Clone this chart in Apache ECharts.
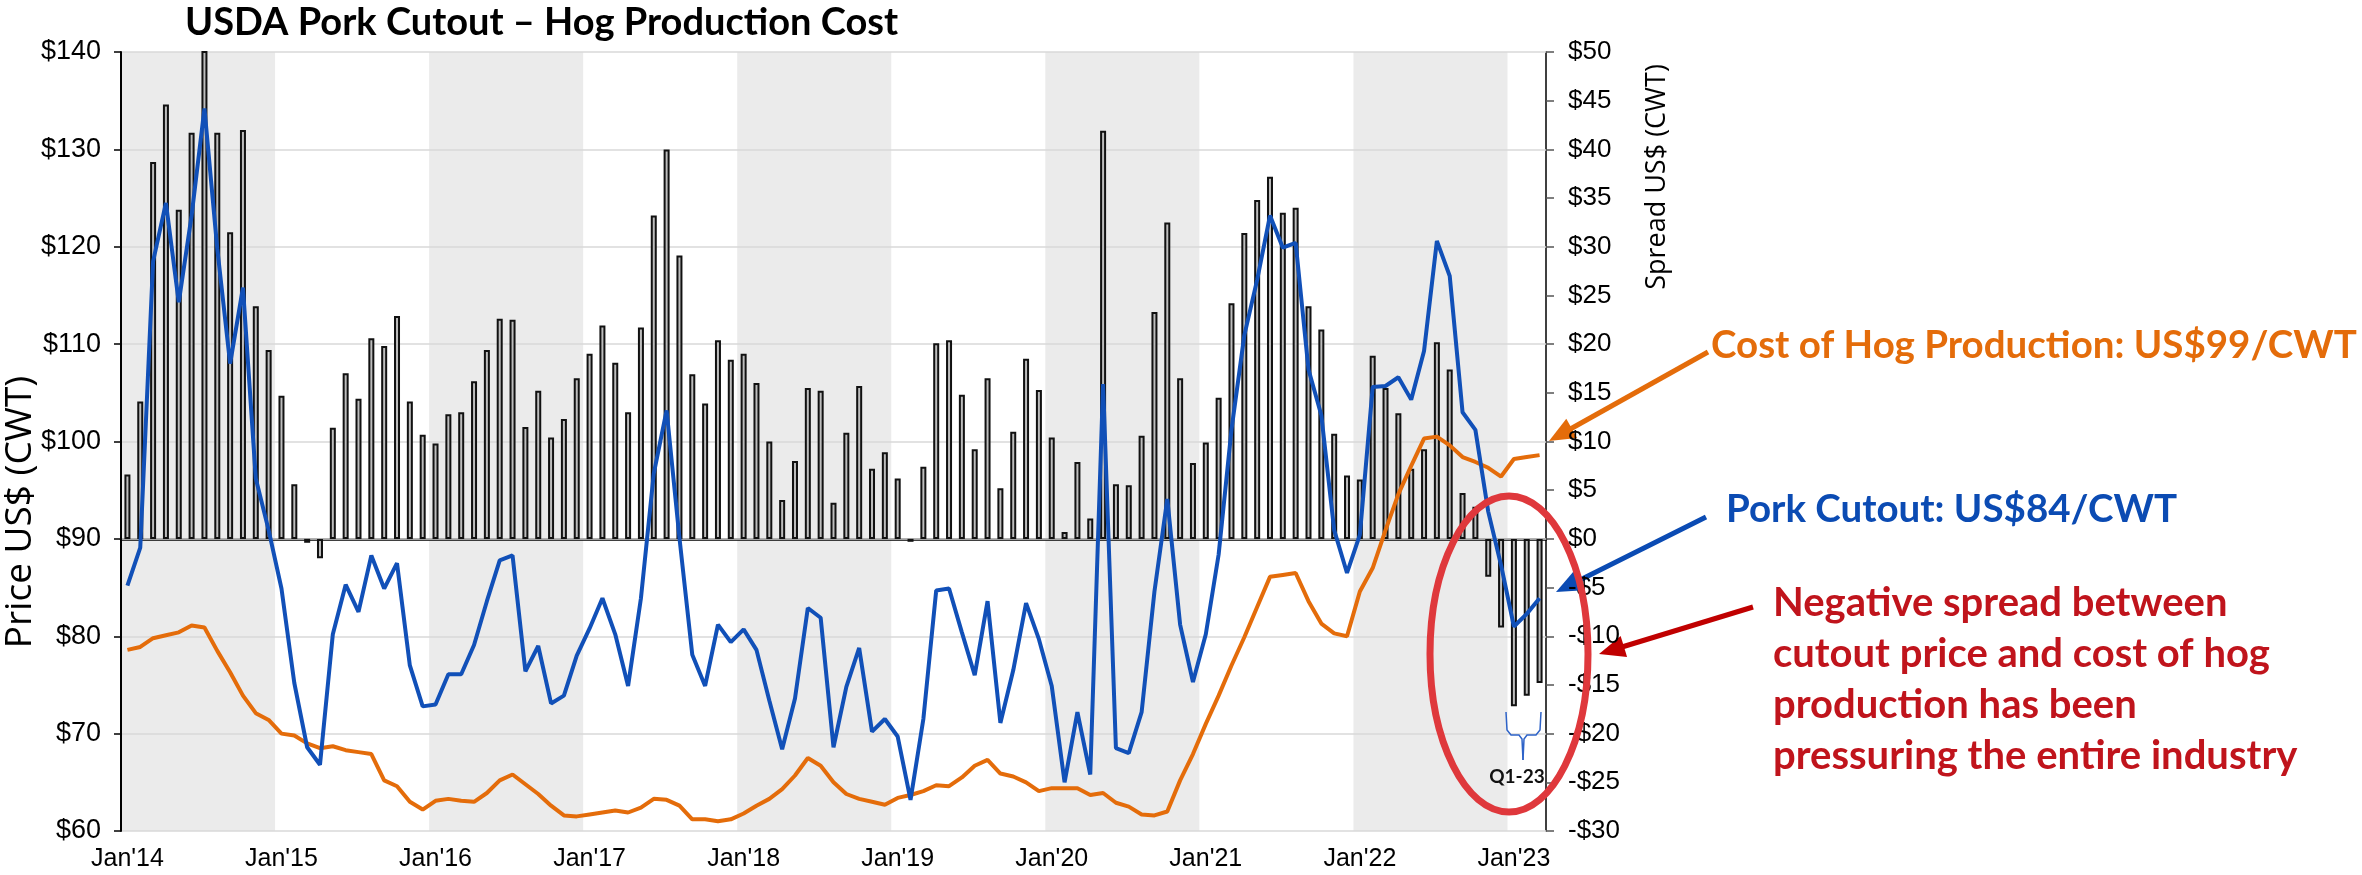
<!DOCTYPE html>
<html>
<head>
<meta charset="utf-8">
<script src="https://cdn.jsdelivr.net/npm/echarts@6.0.0/dist/echarts.min.js"></script>
<style>
  html, body { margin: 0; padding: 0; background: #fff; }
  #chart { width: 2362px; height: 875px; }
</style>
</head>
<body>
<div id="chart"></div>
<script>
// month labels Jan'14 .. Mar'23
const monthNames = ['Jan', 'Feb', 'Mar', 'Apr', 'May', 'Jun', 'Jul', 'Aug', 'Sep', 'Oct', 'Nov', 'Dec'];
const years = ['14', '15', '16', '17', '18', '19', '20', '21', '22', '23'];
const categories = [];
years.forEach(function (y) {
    monthNames.forEach(function (m) {
        categories.push(m + "'" + y);
    });
});
categories.length = 111; // data stops at Mar'23

// USDA pork cutout, US$/cwt (left axis)
const cutout = [
    85.2, 89.1, 118.5, 124.5, 114.3, 123.2, 134.2, 119.8, 108.0, 115.8, 96.2, 90.9,
    84.9, 75.2, 68.6, 66.8, 80.2, 85.3, 82.5, 88.3, 84.9, 87.5, 77.0, 72.8,
    73.0, 76.1, 76.1, 79.1, 83.6, 87.8, 88.3, 76.4, 79.0, 73.1, 73.9, 78.0,
    80.8, 83.9, 80.2, 74.9, 83.9, 96.7, 103.2, 90.1, 78.1, 74.9, 81.2, 79.4,
    80.7, 78.6, 73.4, 68.4, 73.6, 82.9, 81.9, 68.6, 74.8, 78.8, 70.2, 71.5,
    69.7, 63.2, 71.5, 84.7, 84.9, 80.4, 76.0, 83.6, 71.1, 76.5, 83.4, 79.7,
    74.9, 65.0, 72.2, 65.8, 105.9, 68.5, 68.0, 72.2, 84.6, 94.1, 81.2, 75.3,
    80.2, 88.4, 101.2, 110.9, 116.6, 123.2, 119.9, 120.4, 107.4, 102.7, 90.9, 86.5,
    90.4, 105.6, 105.7, 106.6, 104.3, 109.3, 120.6, 117.0, 103.0, 101.2, 92.8, 87.3,
    81.0, 82.3, 83.9
];

// cost of hog production, US$/cwt (left axis)
const cost = [
    78.6, 78.9, 79.8, 80.1, 80.4, 81.1, 80.9, 78.5, 76.3, 73.9, 72.1, 71.4,
    70.0, 69.8, 69.0, 68.5, 68.7, 68.3, 68.1, 67.9, 65.2, 64.6, 63.0, 62.2,
    63.1, 63.3, 63.1, 63.0, 63.9, 65.2, 65.8, 64.8, 63.8, 62.6, 61.6, 61.5,
    61.7, 61.9, 62.1, 61.9, 62.4, 63.3, 63.2, 62.6, 61.2, 61.2, 61.0, 61.2,
    61.8, 62.6, 63.3, 64.3, 65.7, 67.5, 66.7, 65.0, 63.8, 63.3, 63.0, 62.7,
    63.4, 63.7, 64.1, 64.7, 64.6, 65.5, 66.7, 67.3, 65.9, 65.6, 65.0, 64.1,
    64.4, 64.4, 64.4, 63.7, 63.9, 62.9, 62.5, 61.7, 61.6, 62.0, 65.2, 67.9,
    71.0, 73.9, 77.0, 79.9, 83.0, 86.1, 86.3, 86.5, 83.6, 81.3, 80.3, 80.0,
    84.6, 87.0, 90.9, 94.6, 97.5, 100.3, 100.5, 99.6, 98.4, 97.9, 97.3, 96.4,
    98.2, 98.4, 98.6
];

// spread cutout - cost, US$/cwt (right axis)
const spread = [
    6.6, 14.1, 38.7, 44.6, 33.8, 41.7, 53.3, 41.7, 31.5, 42.0, 23.9, 19.4,
    14.7, 5.6, -0.4, -2.0, 11.4, 17.0, 14.4, 20.6, 19.8, 22.9, 14.1, 10.7,
    9.8, 12.8, 13.0, 16.2, 19.4, 22.6, 22.5, 11.5, 15.2, 10.4, 12.3, 16.5,
    19.0, 21.9, 18.1, 13.0, 21.7, 33.2, 40.0, 29.1, 16.9, 13.9, 20.4, 18.4,
    19.0, 16.0, 10.0, 4.0, 8.0, 15.5, 15.2, 3.7, 10.9, 15.7, 7.2, 8.9,
    6.2, -0.3, 7.4, 20.1, 20.4, 14.8, 9.2, 16.5, 5.2, 11.0, 18.5, 15.3,
    10.4, 0.7, 7.9, 2.1, 41.9, 5.6, 5.5, 10.6, 23.3, 32.5, 16.5, 7.8,
    9.9, 14.5, 24.2, 31.4, 34.8, 37.2, 33.5, 34.0, 23.9, 21.5, 10.8, 6.5,
    6.1, 18.8, 15.5, 12.9, 7.2, 9.2, 20.2, 17.4, 4.7, 3.3, -3.9, -9.1,
    -17.2, -16.1, -14.8
];

const tickFont = 'Liberation Sans';
const noteFont = 'Lato';

// straight arrow with a filled head at (x2, y2)
function arrow(x1, y1, x2, y2, color) {
    const len = 26, half = 11;
    const dx = x2 - x1, dy = y2 - y1;
    const d = Math.sqrt(dx * dx + dy * dy);
    const ux = dx / d, uy = dy / d;
    const bx = x2 - ux * len, by = y2 - uy * len;
    return [{
        type: 'line',
        shape: { x1: x1, y1: y1, x2: bx + ux * 2, y2: by + uy * 2 },
        style: { stroke: color, lineWidth: 5 }
    }, {
        type: 'polygon',
        shape: { points: [[x2, y2], [bx - uy * half, by + ux * half], [bx + uy * half, by - ux * half]] },
        style: { fill: color }
    }];
}

const chart = echarts.init(document.getElementById('chart'), null, { renderer: 'canvas' });

const option = {
    animation: false,
    backgroundColor: '#fff',
    title: {
        text: 'USDA Pork Cutout – Hog Production Cost',
        left: 180,
        top: -1,
        textStyle: { fontFamily: noteFont, fontWeight: 'bold', fontSize: 38, color: '#000' }
    },
    grid: { left: 121, right: 816, top: 52, bottom: 44, containLabel: false },
    xAxis: {
        type: 'category',
        data: categories,
        boundaryGap: true,
        axisLine: { lineStyle: { color: '#000', width: 2.5 } },
        axisTick: { interval: 11, length: 7, lineStyle: { color: '#000', width: 1.5 } },
        axisLabel: {
            interval: 11, margin: 16, color: '#000',
            fontFamily: tickFont, fontSize: 25
        },
        splitLine: { show: false },
        splitArea: {
            show: true, interval: 11,
            areaStyle: { color: ['#ebebeb', 'rgba(255,255,255,0)'] }
        }
    },
    yAxis: [{
        type: 'value',
        min: 60, max: 140, interval: 10,
        z: 1,
        axisLine: { show: true, lineStyle: { color: '#000', width: 2 } },
        axisTick: { show: true, length: 7, lineStyle: { color: '#000', width: 1.5 } },
        axisLabel: {
            margin: 20, color: '#000', fontFamily: tickFont, fontSize: 27,
            formatter: function (v) { return '$' + v; }
        },
        splitLine: { show: true, lineStyle: { color: '#d9d9d9', width: 1.5 } }
    }, {
        type: 'value',
        min: -30, max: 50, interval: 5,
        position: 'right',
        axisLine: { show: true, lineStyle: { color: '#000', width: 1.5 } },
        axisTick: { show: true, length: 8, lineStyle: { color: '#555', width: 1.5 } },
        axisLabel: {
            margin: 22, color: '#000', fontFamily: tickFont, fontSize: 26,
            formatter: function (v) { return v < 0 ? '-$' + (-v) : '$' + v; }
        },
        splitLine: { show: false }
    }],
    series: [{
        name: 'Spread',
        type: 'bar',
        yAxisIndex: 1,
        data: spread,
        barWidth: 6,
        itemStyle: { color: '#bdbdbd', borderColor: '#111', borderWidth: 2 },
        z: 2
    }, {
        name: 'Cost of Hog Production',
        type: 'line',
        yAxisIndex: 0,
        data: cost,
        symbol: 'none',
        lineStyle: { color: '#e46c0a', width: 4 },
        z: 3
    }, {
        name: 'Pork Cutout',
        type: 'line',
        yAxisIndex: 0,
        data: cutout,
        symbol: 'none',
        lineStyle: { color: '#1150b8', width: 4 },
        z: 4
    }],
    graphic: {
        elements: [].concat(
            [{
                type: 'text', x: 20, y: 512, rotation: Math.PI / 2,
                style: {
                    text: 'Price US$ (CWT)', fill: '#000', fontFamily: 'Open Sans', fontSize: 37,
                    align: 'center', verticalAlign: 'middle'
                }
            }, {
                type: 'text', x: 1657, y: 177, rotation: Math.PI / 2,
                style: {
                    text: 'Spread US$ (CWT)', fill: '#000', fontFamily: 'Open Sans', fontSize: 27,
                    align: 'center', verticalAlign: 'middle'
                }
            }, {
                type: 'ellipse', z: 10,
                shape: { cx: 1509, cy: 654, rx: 79, ry: 158 },
                style: { fill: 'none', stroke: '#df383c', lineWidth: 7 }
            }, {
                type: 'polyline', z: 10,
                shape: { points: [[1506, 712], [1507, 730], [1511, 735], [1519, 735], [1522, 739], [1523, 760]] },
                style: { fill: 'none', stroke: '#2e63c8', lineWidth: 1.5 }
            }, {
                type: 'polyline', z: 10,
                shape: { points: [[1541, 712], [1540, 730], [1536, 735], [1527, 735], [1524, 739], [1523, 760]] },
                style: { fill: 'none', stroke: '#2e63c8', lineWidth: 1.5 }
            }, {
                type: 'text', x: 1517, y: 777, z: 10,
                style: {
                    text: 'Q1-23', fill: '#111', fontFamily: noteFont, fontWeight: 'bold', fontSize: 19,
                    align: 'center', verticalAlign: 'middle'
                }
            }, {
                type: 'text', x: 1711, y: 346, z: 10,
                style: {
                    text: 'Cost of Hog Production: US$99/CWT', fill: '#e46c0a',
                    fontFamily: noteFont, fontWeight: 'bold', fontSize: 38.5,
                    align: 'left', verticalAlign: 'middle'
                }
            }, {
                type: 'text', x: 1726, y: 510, z: 10,
                style: {
                    text: 'Pork Cutout: US$84/CWT', fill: '#0b4bb3',
                    fontFamily: noteFont, fontWeight: 'bold', fontSize: 38.5,
                    align: 'left', verticalAlign: 'middle'
                }
            }, {
                type: 'text', x: 1773, y: 680, z: 10,
                style: {
                    text: 'Negative spread between\ncutout price and cost of hog\nproduction has been\npressuring the entire industry',
                    fill: '#c0141c', fontFamily: noteFont, fontWeight: 'bold', fontSize: 40,
                    lineHeight: 51, align: 'left', verticalAlign: 'middle'
                }
            }],
            arrow(1708, 352, 1549, 441, '#e46c0a'),
            arrow(1706, 517, 1556, 592, '#0b4bb3'),
            arrow(1753, 607, 1599, 654, '#c00000')
        )
    }
};

chart.setOption(option);
</script>
</body>
</html>
